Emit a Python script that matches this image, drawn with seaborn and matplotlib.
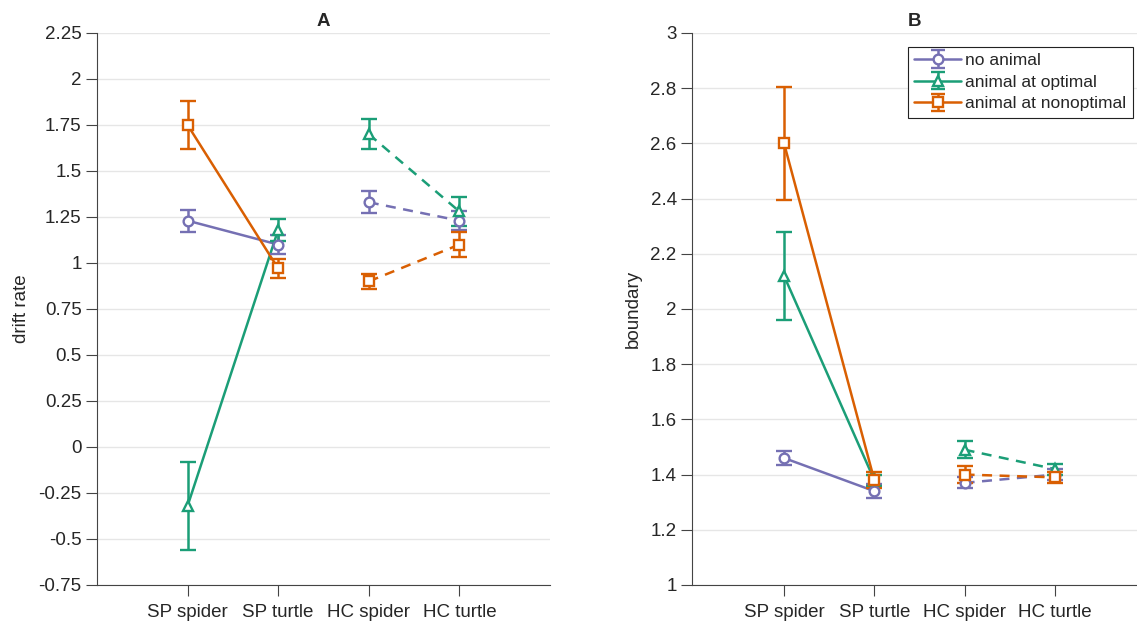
import numpy as np
import pandas as pd
import matplotlib
matplotlib.use("Agg")
import matplotlib.pyplot as plt
import seaborn as sns

# data
categories = ["SP spider", "SP turtle", "HC spider", "HC turtle"]
conditions = ["no animal", "animal at optimal", "animal at nonoptimal"]

drift_no = [1.23, 1.10, 1.33, 1.23]
drift_no_err = [0.06, 0.05, 0.06, 0.05]
drift_opt = [-0.32, 1.18, 1.70, 1.28]
drift_opt_err = [0.24, 0.06, 0.08, 0.08]
drift_non = [1.75, 0.97, 0.90, 1.10]
drift_non_err = [0.13, 0.05, 0.04, 0.07]

bound_no = [1.46, 1.34, 1.37, 1.40]
bound_no_err = [0.025, 0.025, 0.02, 0.02]
bound_opt = [2.12, 1.38, 1.49, 1.42]
bound_opt_err = [0.16, 0.02, 0.03, 0.02]
bound_non = [2.60, 1.38, 1.40, 1.39]
bound_non_err = [0.205, 0.03, 0.03, 0.02]

colors = ["#7570b3", "#1b9e77", "#d95f02"]
markers = ["o", "^", "s"]

sns.set_style("ticks")
plt.rcParams["font.family"] = ["Liberation Sans", "DejaVu Sans"]
plt.rcParams["axes.unicode_minus"] = False

FS = 13.5
LW = 1.8


def long_table(series):
    rows = []
    for cond, vals in zip(conditions, series):
        for i, v in enumerate(vals):
            rows.append({"x": i, "value": v, "condition": cond,
                         "task": categories[i].split()[0]})
    return pd.DataFrame(rows)


def panel(ax, means, errs, title, ylabel, ylim, yticks):
    df = long_table(means)
    sns.lineplot(data=df, x="x", y="value", hue="condition", style="task",
                 units="task", estimator=None, palette=colors,
                 dashes={"SP": "", "HC": (4, 3)}, linewidth=LW,
                 legend=False, ax=ax)
    handles = []
    for cond, m, e, c, mk in zip(conditions, means, errs, colors, markers):
        ax.errorbar(range(len(categories)), m, yerr=e, fmt=mk, color=c,
                    mfc="white", mec=c, ms=7, mew=1.7, elinewidth=LW,
                    capsize=6, capthick=LW, zorder=3)
        # proxy for the legend: line + marker + error bar
        h = ax.errorbar([np.nan], [np.nan], yerr=[np.nan], fmt="-" + mk,
                        color=c, mfc="white", mec=c, ms=7, mew=1.7,
                        lw=LW, capsize=5, capthick=LW, label=cond)
        handles.append(h)
    ax.set_ylim(*ylim)
    ax.set_yticks(yticks)
    ax.yaxis.set_major_formatter(plt.FuncFormatter(lambda v, p: "%g" % round(v, 2)))
    ax.set_xticks(range(len(categories)))
    ax.set_xticklabels(categories, fontsize=FS)
    ax.tick_params(axis="y", labelsize=FS, length=8, color="#444444", pad=3)
    ax.tick_params(axis="x", length=8, color="#444444", pad=6)
    ax.yaxis.grid(True, color="#e6e6e6", lw=1)
    ax.set_axisbelow(True)
    for s in ["top", "right"]:
        ax.spines[s].set_visible(False)
    for s in ["left", "bottom"]:
        ax.spines[s].set_color("#444444")
    ax.set_xlabel("")
    ax.set_ylabel(ylabel, fontsize=FS, labelpad=6)
    ax.set_title(title, fontsize=FS, fontweight="bold", pad=5)
    return handles


fig = plt.figure(figsize=(11.37, 6.28), dpi=100)
ax1 = fig.add_axes([0.0853, 0.0685, 0.3984, 0.879])
ax2 = fig.add_axes([0.6086, 0.0685, 0.3914, 0.879])

panel(ax1, [drift_no, drift_opt, drift_non],
      [drift_no_err, drift_opt_err, drift_non_err],
      "A", "drift rate", (-0.75, 2.25), np.arange(-0.75, 2.26, 0.25))
ax1.set_xlim(-1, 4)

h = panel(ax2, [bound_no, bound_opt, bound_non],
          [bound_no_err, bound_opt_err, bound_non_err],
          "B", "boundary", (1, 3), np.arange(1, 3.01, 0.2))
ax2.set_xlim(-1.02, 3.91)

leg = ax2.legend(handles=h, labels=conditions, loc="upper right",
                 bbox_to_anchor=(0.99, 0.975), fontsize=12.5, frameon=True,
                 fancybox=False, edgecolor="#222222", framealpha=1,
                 handlelength=2.7, handletextpad=0.25, borderpad=0.35,
                 labelspacing=0.38, borderaxespad=0)
leg.get_frame().set_linewidth(0.8)

fig.savefig("out.png", dpi=100)
